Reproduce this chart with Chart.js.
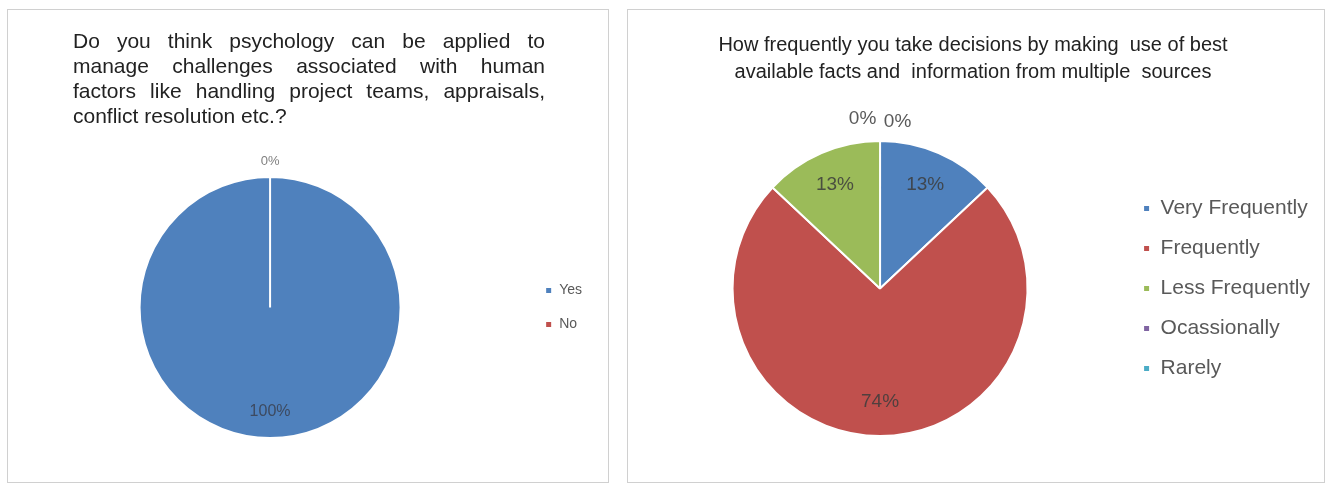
<!DOCTYPE html>
<html>
<head>
<meta charset="utf-8">
<script src="https://cdn.jsdelivr.net/npm/chart.js@4.4.1/dist/chart.umd.min.js"></script>
<style>
  body { margin: 0; background: #fff; width: 1330px; height: 483px; overflow: hidden; }
  .panel { position: absolute; border: 1px solid #d0d0d0; background: #fff; }
  #leftPanel  { left: 7px;   top: 9px; width: 600px; height: 472px; }
  #rightPanel { left: 627px; top: 9px; width: 696px; height: 472px; }
  canvas { display: block; }
</style>
</head>
<body>
<div class="panel" id="leftPanel"><canvas id="leftChart" width="600" height="471"></canvas></div>
<div class="panel" id="rightPanel"><canvas id="rightChart" width="696" height="471"></canvas></div>
<script>
// ---- Data ---------------------------------------------------
const leftTitle  = [
  "Do you think psychology can be applied to",
  "manage challenges associated with human",
  "factors like handling project teams, appraisals,",
  "conflict resolution etc.?",
];
const leftLabels = ["Yes", "No"];
const leftValues = [100, 0];

const rightTitle  = [
  "How frequently you take decisions by making  use of best",
  "available facts and  information from multiple  sources",
];
const rightLabels = ["Very Frequently", "Frequently", "Less Frequently", "Ocassionally", "Rarely"];
const rightValues = [13, 74, 13, 0, 0];

const officeColors = ["#4F81BD", "#C0504D", "#9BBB59", "#8064A2", "#4BACC6"];
const FONT = "'Liberation Sans', Arial, sans-serif";

// ---- Title drawn on canvas (left one is justified) ----------
const panelTitle = {
  id: "panelTitle",
  afterDraw(chart, args, opts) {
    const ctx = chart.ctx;
    ctx.save();
    ctx.font = opts.font;
    ctx.fillStyle = opts.color;
    ctx.textBaseline = "alphabetic";
    opts.lines.forEach((line, i) => {
      const y = opts.y + i * opts.lineHeight;
      if (opts.justify && i < opts.lines.length - 1) {
        const words = line.split(" ");
        const used  = words.reduce((s, w) => s + ctx.measureText(w).width, 0);
        const gap   = (opts.width - used) / (words.length - 1);
        let x = opts.x;
        ctx.textAlign = "left";
        words.forEach((w) => { ctx.fillText(w, x, y); x += ctx.measureText(w).width + gap; });
      } else {
        ctx.textAlign = opts.align;
        ctx.fillText(line, opts.x, y);
      }
    });
    ctx.restore();
  },
};

// ---- Percentage labels --------------------------------------
const pctLabels = {
  id: "pctLabels",
  afterDatasetsDraw(chart, args, opts) {
    const ctx    = chart.ctx;
    const values = chart.data.datasets[0].data;
    const total  = values.reduce((a, b) => a + b, 0);
    const meta   = chart.getDatasetMeta(0);
    const zeros  = values.filter((v) => v === 0).length;
    let k = 0;
    ctx.save();
    ctx.textAlign = "center";
    ctx.textBaseline = "middle";
    meta.data.forEach((arc, i) => {
      const { x, y, startAngle, endAngle, outerRadius } =
        arc.getProps(["x", "y", "startAngle", "endAngle", "outerRadius"], true);
      const text = Math.round(values[i] / total * 100) + "%";
      if (values[i] === 0) {
        ctx.font = opts.zeroFont;
        ctx.fillStyle = opts.zeroColor;
        const dx = (k - (zeros - 1) / 2) * opts.zeroGap;
        ctx.fillText(text, x + dx, y - outerRadius - opts.zeroOffset + k * 3);
        k++;
      } else {
        const mid = (startAngle + endAngle) / 2;
        const r   = outerRadius * opts.factor;
        ctx.font = opts.font;
        ctx.fillStyle = opts.color;
        ctx.fillText(text, x + Math.cos(mid) * r, y + Math.sin(mid) * r);
      }
    });
    ctx.restore();
  },
};

function makePie(id, labels, values, cfg) {
  return new Chart(document.getElementById(id), {
    type: "pie",
    data: {
      labels,
      datasets: [{
        data: values,
        backgroundColor: officeColors.slice(0, values.length),
        borderColor: "#ffffff",
        borderWidth: 2,
      }],
    },
    options: {
      responsive: false,
      animation: false,
      devicePixelRatio: 1,
      layout: { padding: cfg.padding },
      plugins: {
        title: { display: false },
        tooltip: { enabled: false },
        legend: {
          position: "right",
          align: "center",
          labels: {
            boxWidth: 7,
            boxHeight: 7,
            padding: cfg.legendGap,
            color: "#595959",
            font: { family: FONT, size: cfg.legendSize },
          },
        },
        panelTitle: cfg.title,
        pctLabels: cfg.labels,
      },
    },
    plugins: [panelTitle, pctLabels],
  });
}

makePie("leftChart", leftLabels, leftValues, {
  padding: { left: 7, right: 16, top: 166, bottom: 42 },
  legendSize: 14,
  legendGap: 20,
  title: {
    lines: leftTitle, font: `21px ${FONT}`, color: "#222222",
    x: 65, y: 38, width: 472, lineHeight: 25, justify: true, align: "left",
  },
  labels: {
    font: `16px ${FONT}`, color: "#3d4a60", factor: 0.8,
    zeroFont: `13px ${FONT}`, zeroColor: "#808080", zeroGap: 0, zeroOffset: 16,
  },
});

makePie("rightChart", rightLabels, rightValues, {
  padding: { left: 8, right: 4, top: 130, bottom: 44 },
  legendSize: 21,
  legendGap: 19,
  title: {
    lines: rightTitle, font: `20px ${FONT}`, color: "#222222",
    x: 345, y: 41, width: 0, lineHeight: 27, justify: false, align: "center",
  },
  labels: {
    font: `19px ${FONT}`, color: "rgba(60,60,60,0.85)", factor: 0.77,
    zeroFont: `19px ${FONT}`, zeroColor: "#595959", zeroGap: 35, zeroOffset: 22,
  },
});
</script>
</body>
</html>
